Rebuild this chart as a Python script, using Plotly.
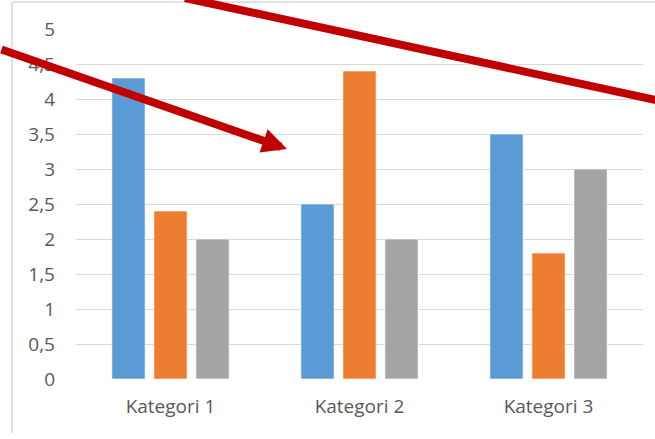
import plotly.graph_objects as go

categories = ["Kategori 1", "Kategori 2", "Kategori 3"]
serie1 = [4.3, 2.5, 3.5]
serie2 = [2.4, 4.4, 1.8]
serie3 = [2.0, 2.0, 3.0]
tick_vals = [0, 0.5, 1, 1.5, 2, 2.5, 3, 3.5, 4, 4.5, 5]
tick_text = ["0", "0,5", "1", "1,5", "2", "2,5", "3", "3,5", "4", "4,5", "5"]

colors = ["#5B9BD5", "#ED7D31", "#A5A5A5"]

W, H = 655, 439
L, R, T, B = 76, 12, 29, 60
pw, ph = W - L - R, H - T - B

def px(x):
    return (x - L) / pw

def py(y):
    return (H - B - y) / ph

fig = go.Figure()
for vals, c in zip([serie1, serie2, serie3], colors):
    fig.add_trace(go.Bar(x=categories, y=vals, marker=dict(color=c, line=dict(color="rgba(255,255,255,0.6)", width=1))))

font_name = "Open Sans"
fig.update_layout(
    width=W, height=H,
    margin=dict(l=L, r=R, t=T, b=B, pad=0),
    paper_bgcolor="white", plot_bgcolor="white",
    showlegend=False,
    barmode="group", bargap=0.333, bargroupgap=0.21,
    font=dict(family=font_name, size=19, color="#595959"),
    xaxis=dict(showgrid=False, showline=False, ticks="", ticklabelstandoff=14,
               tickfont=dict(size=19, color="#595959")),
    yaxis=dict(range=[0, 5], tickvals=tick_vals, ticktext=tick_text, showgrid=True,
               gridcolor="#D9D9D9", gridwidth=1.3, zeroline=False, showline=False,
               ticks="", ticklabelstandoff=20, tickfont=dict(size=19, color="#595959")),
    shapes=[
        # outer chart border (left and top)
        dict(type="line", xref="paper", yref="paper", x0=px(12), x1=px(12), y0=py(2), y1=py(433),
             line=dict(color="#D9D9D9", width=1.5)),
        dict(type="line", xref="paper", yref="paper", x0=px(12), x1=px(660), y0=py(2), y1=py(2),
             line=dict(color="#D9D9D9", width=1.5)),
        # red line
        dict(type="line", xref="paper", yref="paper", x0=px(185), y0=py(-2), x1=px(665), y1=py(102),
             line=dict(color="#C00000", width=8)),
    ],
    annotations=[
        dict(xref="paper", yref="paper", x=px(287), y=py(149), text="", showarrow=True,
             axref="pixel", ayref="pixel", ax=-297, ay=-100,
             arrowhead=2, arrowsize=0.62, arrowwidth=8, arrowcolor="#C00000"),
    ],
)

fig.write_html("out.html")
